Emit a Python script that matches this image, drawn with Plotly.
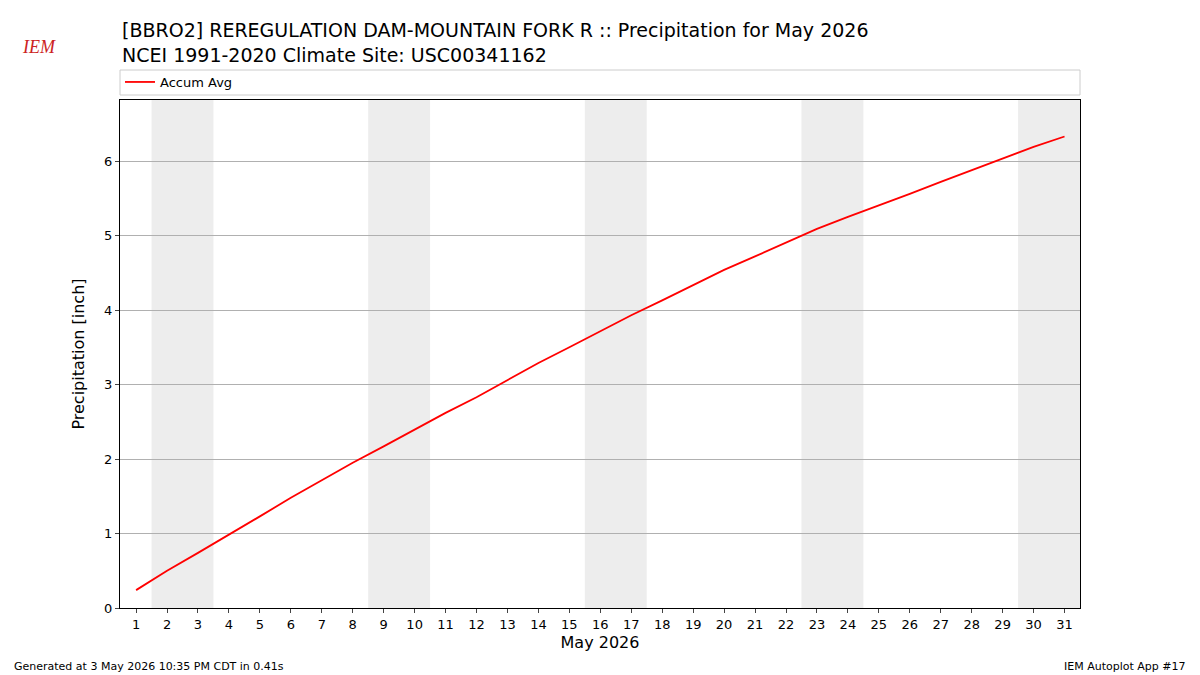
import plotly.graph_objects as go

days = list(range(1, 32))
accum_avg = [0.24, 0.50, 0.74, 0.98, 1.23, 1.48, 1.72, 1.95, 2.17, 2.40, 2.62, 2.83, 3.06, 3.29, 3.50,
             3.72, 3.93, 4.13, 4.34, 4.54, 4.72, 4.91, 5.09, 5.25, 5.40, 5.56, 5.72, 5.88, 6.03, 6.19, 6.33]
weekends = [(1.5, 3.5), (8.5, 10.5), (15.5, 17.5), (22.5, 24.5), (29.5, 31.5)]

fig = go.Figure()
fig.add_trace(go.Scatter(x=days, y=accum_avg, mode="lines", name="Accum Avg",
                         line=dict(color="red", width=1.8)))
for a, b in weekends:
    fig.add_vrect(x0=a, x1=b, fillcolor="#ededed", line_width=0, layer="below")

def py(pix):  # screen pixel from top -> paper y
    return (608 - pix) / 508
def px(pix):
    return (pix - 120) / 960

F = "DejaVu Sans"
fig.update_layout(
    width=1192, height=667, plot_bgcolor="white", paper_bgcolor="white",
    margin=dict(l=112, r=120, t=92, b=67, autoexpand=False),
    font=dict(family=F, color="black", size=13),
    showlegend=True,
    legend=dict(x=0, y=py(67), xanchor="left", yanchor="top", orientation="h",
                bgcolor="rgba(0,0,0,0)", borderwidth=0, font=dict(size=13)),
    xaxis=dict(range=[0.48, 31.5], tickvals=days, ticktext=[str(d) for d in days],
               showgrid=False, ticks="outside", ticklen=4, showline=True, mirror=True,
               linecolor="black", zeroline=False, automargin=False,
               title=dict(text="May 2026", font=dict(size=16), standoff=6)),
    yaxis=dict(range=[0, 6.82], tickvals=[0, 1, 2, 3, 4, 5, 6], showgrid=True,
               gridcolor="#b0b0b0", ticks="outside", ticklen=4, showline=True, mirror=True,
               linecolor="black", zeroline=False, automargin=False,
               title=dict(text="Precipitation [inch]", font=dict(size=16))),
)
fig.add_shape(type="rect", xref="paper", yref="paper", x0=0, x1=1, y0=py(95), y1=py(70),
              line=dict(color="#cccccc", width=1), fillcolor="rgba(0,0,0,0)")
fig.add_annotation(text="[BBRO2] REREGULATION DAM-MOUNTAIN FORK R :: Precipitation for May 2026<br>NCEI 1991-2020 Climate Site: USC00341162",
                   xref="paper", yref="paper", x=0, y=py(17), xanchor="left", yanchor="top",
                   align="left", showarrow=False, font=dict(size=19))
fig.add_annotation(text="<i>IEM</i>", xref="paper", yref="paper", x=px(20), y=py(35),
                   xanchor="left", yanchor="top", showarrow=False,
                   font=dict(size=18, color="#cc2222", family="Liberation Serif"))
fig.add_annotation(text="Generated at 3 May 2026 10:35 PM CDT in 0.41s", xref="paper", yref="paper",
                   x=px(12), y=py(666), xanchor="left", yanchor="middle", showarrow=False, font=dict(size=11))
fig.add_annotation(text="IEM Autoplot App #17", xref="paper", yref="paper",
                   x=px(1188), y=py(666), xanchor="right", yanchor="middle", showarrow=False, font=dict(size=11))
fig.write_html("out.html")
